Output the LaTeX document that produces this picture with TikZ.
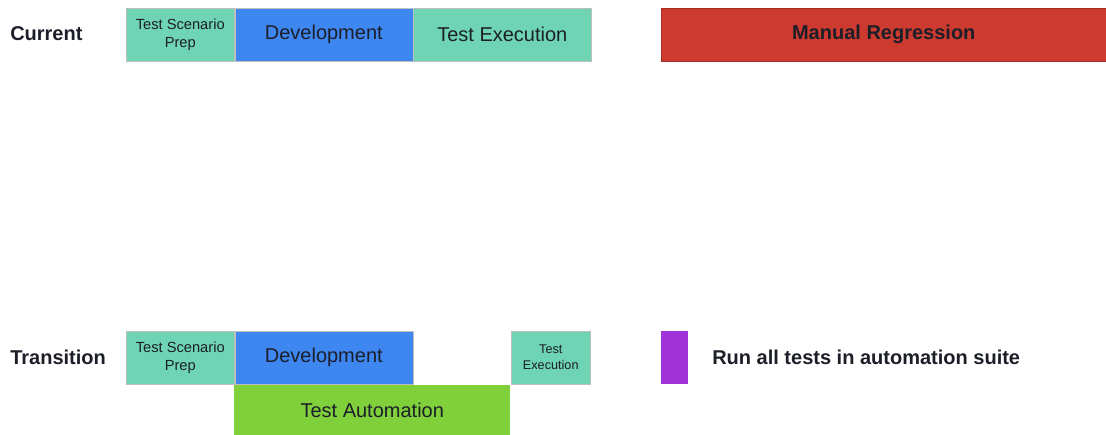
\documentclass[tikz,border=0pt]{standalone}
\usepackage{fontspec}
\setmainfont{Liberation Sans}
\usetikzlibrary{positioning}
\definecolor{prepteal}{RGB}{110,212,180}
\definecolor{devblue}{RGB}{62,134,240}
\definecolor{regred}{RGB}{204,58,48}
\definecolor{autogreen}{RGB}{128,208,60}
\definecolor{runpurple}{RGB}{160,50,216}
\definecolor{inktext}{RGB}{28,30,40}

\begin{document}
\begin{tikzpicture}[x=0.75pt,y=-0.75pt,
		phase/.style={draw=black!25,inner sep=0pt,anchor=north west,align=center,
			minimum height=39.5pt,text=inktext,font=\fontsize{15}{17}\selectfont},
		small/.style={font=\fontsize{11}{13.5}\selectfont},
		tiny/.style={font=\fontsize{9.5}{12}\selectfont},
		rowlabel/.style={anchor=west,inner sep=0pt,text=inktext,font=\bfseries\fontsize{15}{17}\selectfont}]
		\useasboundingbox (0,0) rectangle (1106,435);% page size of the reference

		% current process
		\node[rowlabel] (current) at (10,34) {Current};
		\node[phase,small,fill=prepteal,minimum width=81pt] (curprep) at (126,8) {Test Scenario\\Prep};
		\node[phase,fill=devblue,minimum width=133.5pt,right=0pt of curprep] (curdev) {Development};
		\node[phase,fill=prepteal,minimum width=133.5pt,right=0pt of curdev] (curexec) {Test Execution};
		\node[phase,fill=regred,draw=regred!80!black,minimum width=333.75pt,font=\bfseries\fontsize{15}{17}\selectfont] (manual) at (661,8) {Manual Regression};

		% transition process
		\node[rowlabel] (transition) at (10,357) {Transition};
		\node[phase,small,fill=prepteal,minimum width=81pt] (trprep) at (126,331) {Test Scenario\\Prep};
		\node[phase,fill=devblue,minimum width=133.5pt,right=0pt of trprep] (trdev) {Development};
		\node[phase,tiny,fill=prepteal,minimum width=59.25pt] (trexec) at (511,331) {Test\\Execution};
		\node[phase,fill=autogreen,draw=none,minimum width=207pt,minimum height=37.5pt] (auto) at (234,385) {Test Automation};
		\node[phase,fill=runpurple,draw=none,minimum width=20.25pt] (runall) at (661,331) {};
		\node[rowlabel] (runtext) at (712,357) {Run all tests in automation suite};
	\end{tikzpicture}
\end{document}
